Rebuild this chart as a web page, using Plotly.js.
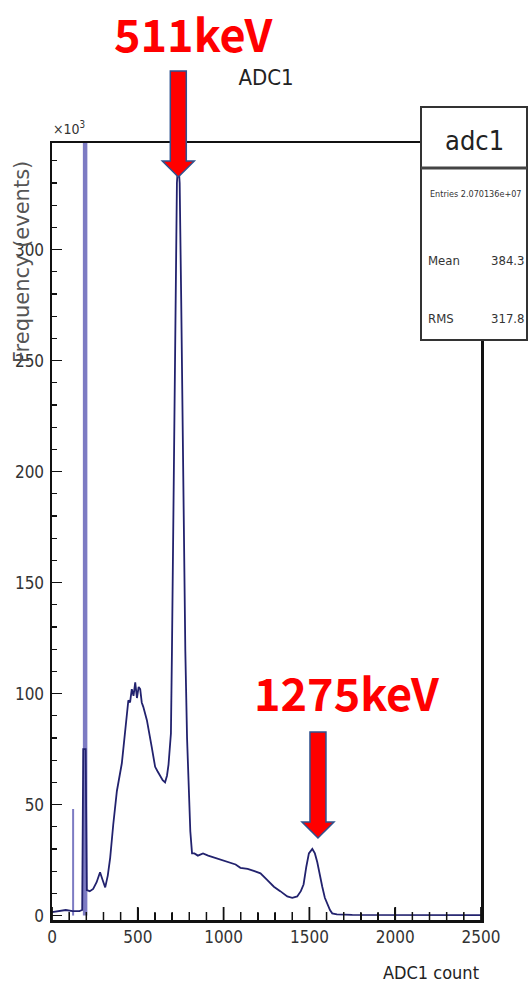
<!DOCTYPE html>
<html>
<head>
<meta charset="utf-8">
<script src="https://cdn.plot.ly/plotly-3.0.1.min.js"></script>
<style>
  html, body { margin: 0; padding: 0; background: #ffffff; }
  #chart { width: 529px; height: 992px; }
</style>
</head>
<body>
<div id="chart"></div>
<script>
// ---- Data (ADC1 histogram, counts in units of 10^3) ----
const adcChannel = [0, 40, 80, 120, 160, 176, 182, 196, 203, 220, 240, 260, 280, 295, 310, 325, 339, 357, 378, 407, 426, 445, 455, 465, 475, 485, 495, 505, 514, 523, 532, 553, 581, 601, 615, 630, 645, 659, 670, 679, 687, 693, 699, 707, 718, 728, 736, 744, 753, 765, 777, 787, 796, 806, 816, 830, 850, 880, 910, 950, 990, 1030, 1070, 1098, 1140, 1180, 1215, 1255, 1293, 1330, 1371, 1400, 1429, 1450, 1466, 1482, 1497, 1517, 1532, 1546, 1560, 1575, 1590, 1604, 1620, 1633, 1660, 1750, 2000, 2500];
const counts = [1.5, 2, 2.5, 2, 2, 2.5, 75, 75, 11.5, 11, 12, 15, 19.5, 16, 12.7, 18, 26, 41, 56, 68.6, 82, 97, 96, 102, 99, 105, 98, 103, 102, 96, 94, 88, 76, 67, 65, 63, 61, 60, 63, 68, 76, 82, 119, 187, 277, 330, 340, 330, 277, 187, 119, 80, 60, 38, 28, 28, 27, 28, 27, 26, 25, 24, 23, 21.5, 21, 20, 19, 16, 13, 11, 8.6, 8, 8.6, 11, 14, 22, 28, 30, 28, 24, 18, 13, 8, 5, 2.5, 1, 0.5, 0.3, 0.2, 0.2];
// single-bin spikes (second one runs off scale)
const spikeChannel = [123, 193];
const spikeCounts = [48, 400];

const xTickVals = [0, 500, 1000, 1500, 2000, 2500];
const xMinorStep = 100;
const yTickVals = [0, 50, 100, 150, 200, 250, 300];

const statsName = "adc1";
const statsLabels = ["Mean", "RMS"];
const statsValues = ["384.3", "317.8"];
const statsEntries = "Entries 2.070136e+07";

const peakLabels = ["511keV", "1275keV"];
const peakChannels = [736, 1550];

// ---- Geometry helpers ----
const W = 529, H = 992;
const M = {l: 52, r: 48, t: 143, b: 72};
const plotW = W - M.l - M.r, plotH = H - M.t - M.b;
const xRange = [0, 2500], yRange = [-2, 348];
const px2paperX = p => (p - M.l) / plotW;
const px2paperY = p => (H - M.b - p) / plotH;
const data2paperX = v => (v - xRange[0]) / (xRange[1] - xRange[0]);

const narrow = "Liberation Sans Narrow, DejaVu Sans Condensed, Liberation Sans, Arial, sans-serif";
const redFont = {family: "Noto Sans CJK JP, Noto Sans, sans-serif", size: 45, color: "#ff0000", weight: 700};

const spikeTraces = spikeChannel.map((c, i) => ({
  type: "scatter", mode: "lines", x: [c, c], y: [0, spikeCounts[i]],
  line: {color: "#7d7bc3", width: i === 0 ? 2 : 4.5}, hoverinfo: "skip", showlegend: false
}));

const traces = spikeTraces.concat([
  {
    type: "scatter", mode: "lines", x: adcChannel, y: counts,
    line: {color: "#22226e", width: 1.8}, showlegend: false
  }
]);

// Block arrow (tip at anchor, pointing down)
function arrowShape(xPaper, tipYpx) {
  return {
    type: "path", xref: "paper", yref: "paper",
    xsizemode: "pixel", ysizemode: "pixel",
    xanchor: xPaper, yanchor: px2paperY(tipYpx),
    path: "M 0 0 L -16 16 L -8 16 L -8 106 L 8 106 L 8 16 L 16 16 Z",
    fillcolor: "#ff0000", line: {color: "#2f528f", width: 1.5}, layer: "above"
  };
}

// inside tick marks on the bottom axis, built from the tick arrays (drawn as shapes above everything)
const xMinorVals = [];
for (let v = xRange[0] + xMinorStep; v < xRange[1]; v += xMinorStep) if (!xTickVals.includes(v)) xMinorVals.push(v);
function tickShapes(vals, lenPx, width) {
  return vals.map(v => ({
    type: "line", xref: "paper", yref: "paper",
    x0: data2paperX(v), x1: data2paperX(v), y0: 0, y1: lenPx / plotH,
    line: {color: "#111111", width: width}, layer: "above"
  }));
}

const shapes = [
  // stats box
  {type: "rect", xref: "paper", yref: "paper", x0: px2paperX(421), x1: px2paperX(527), y0: px2paperY(340), y1: px2paperY(107),
   fillcolor: "#ffffff", line: {color: "#333333", width: 2}, layer: "above"},
  {type: "line", xref: "paper", yref: "paper", x0: px2paperX(421), x1: px2paperX(527), y0: px2paperY(168), y1: px2paperY(168),
   line: {color: "#444444", width: 3}, layer: "above"},
  arrowShape(data2paperX(peakChannels[0]), 177),
  arrowShape(data2paperX(peakChannels[1]), 838)
].concat(tickShapes(xTickVals, 13, 1.8), tickShapes(xMinorVals, 8, 1.5));

const annotations = [
  {text: "×10<sup>3</sup>", xref: "paper", yref: "paper", x: px2paperX(51), y: px2paperY(139), xanchor: "left", yanchor: "bottom",
   showarrow: false, font: {family: narrow, size: 14, color: "#333"}},
  {text: "Frequency (events)", xref: "paper", yref: "paper", x: px2paperX(22), y: px2paperY(262), xanchor: "center", yanchor: "middle",
   textangle: -90, showarrow: false, font: {family: "DejaVu Sans, sans-serif", size: 21, color: "#555"}},
  {text: "ADC1 count", xref: "paper", yref: "paper", x: px2paperX(481), y: px2paperY(972), xanchor: "right", yanchor: "middle",
   showarrow: false, font: {family: narrow, size: 18, color: "#222"}},
  {text: statsName, xref: "paper", yref: "paper", x: px2paperX(474), y: px2paperY(140), xanchor: "center", yanchor: "middle",
   showarrow: false, font: {family: narrow, size: 27, color: "#222"}},
  {text: statsEntries, xref: "paper", yref: "paper", x: px2paperX(475), y: px2paperY(194), xanchor: "center", yanchor: "middle",
   showarrow: false, font: {family: narrow, size: 9, color: "#333"}},
  {text: peakLabels[0], xref: "paper", yref: "paper", x: data2paperX(peakChannels[0]) + px2paperX(67) - px2paperX(52), y: px2paperY(33),
   xanchor: "center", yanchor: "middle", showarrow: false, font: redFont},
  {text: peakLabels[1], xref: "paper", yref: "paper", x: data2paperX(peakChannels[1]) + px2paperX(81) - px2paperX(52), y: px2paperY(692),
   xanchor: "center", yanchor: "middle", showarrow: false, font: redFont}
];
const statsRowsY = [260, 318];
statsLabels.forEach((lab, i) => {
  annotations.push({text: lab, xref: "paper", yref: "paper", x: px2paperX(426), y: px2paperY(statsRowsY[i]), xanchor: "left", yanchor: "middle",
    showarrow: false, font: {family: narrow, size: 13, color: "#333"}});
  annotations.push({text: statsValues[i], xref: "paper", yref: "paper", x: px2paperX(526), y: px2paperY(statsRowsY[i]), xanchor: "right", yanchor: "middle",
    showarrow: false, font: {family: narrow, size: 13, color: "#333"}});
});

const layout = {
  width: W, height: H,
  margin: M,
  paper_bgcolor: "#ffffff", plot_bgcolor: "#ffffff",
  title: {text: "ADC1", x: 266 / W, xref: "container", y: 1 - 77 / H, yref: "container", xanchor: "center", yanchor: "middle",
          font: {family: narrow, size: 22, color: "#222"}},
  showlegend: false,
  xaxis: {
    range: xRange, tickvals: xTickVals, ticktext: xTickVals.map(String),
    ticks: "inside", ticklen: 12, tickwidth: 1.5, tickcolor: "#111",
    minor: {dtick: xMinorStep, ticks: "inside", ticklen: 7, tickwidth: 1.3, tickcolor: "#111"},
    showline: true, linecolor: "#111", linewidth: 2.5, mirror: true,
    showgrid: false, zeroline: false,
    tickfont: {family: narrow, size: 17, color: "#333"}
  },
  yaxis: {
    range: yRange, tickvals: yTickVals, ticktext: yTickVals.map(String),
    ticks: "inside", ticklen: 10, tickwidth: 1.5, tickcolor: "#111",
    minor: {dtick: 10, ticks: "inside", ticklen: 5, tickwidth: 1.2, tickcolor: "#111"},
    showline: true, linecolor: "#111", linewidth: 2.5, mirror: true,
    showgrid: false, zeroline: false, ticklabelstandoff: 2,
    tickfont: {family: narrow, size: 17, color: "#333"}
  },
  shapes: shapes,
  annotations: annotations
};

Plotly.newPlot("chart", traces, layout, {staticPlot: true, displayModeBar: false});
</script>
</body>
</html>
